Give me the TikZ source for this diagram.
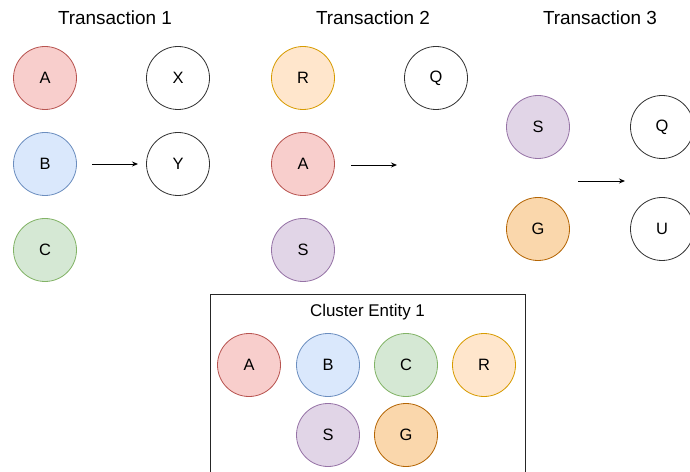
\documentclass[tikz,border=0pt]{standalone}
\usepackage{fontspec}
\setmainfont{Liberation Sans}
\usetikzlibrary{arrows.meta}
\definecolor{redF}{HTML}{F8CECC}\definecolor{redD}{HTML}{B85450}
\definecolor{bluF}{HTML}{DAE8FC}\definecolor{bluD}{HTML}{6C8EBF}
\definecolor{grnF}{HTML}{D5E8D4}\definecolor{grnD}{HTML}{82B366}
\definecolor{ylwF}{HTML}{FFE6CC}\definecolor{ylwD}{HTML}{D79B00}
\definecolor{prpF}{HTML}{E1D5E7}\definecolor{prpD}{HTML}{9673A6}
\definecolor{orgF}{HTML}{FAD7AC}\definecolor{orgD}{HTML}{B46504}
\tikzset{
  ent/.style={circle, minimum size=63bp, inner sep=0pt, draw, line width=0.8bp, font=\fontsize{16.5}{16.5}\selectfont},
  red/.style={ent, fill=redF, draw=redD},
  blu/.style={ent, fill=bluF, draw=bluD},
  grn/.style={ent, fill=grnF, draw=grnD},
  ylw/.style={ent, fill=ylwF, draw=ylwD},
  prp/.style={ent, fill=prpF, draw=prpD},
  org/.style={ent, fill=orgF, draw=orgD},
  plain/.style={ent, fill=white, draw=black!80},
  ttl/.style={font=\fontsize{19}{19}\selectfont},
  flow/.style={-{Stealth[length=6bp,width=5bp]}, line width=0.9bp}
}
\begin{document}
\begin{tikzpicture}[x=1bp, y=-1bp]
\useasboundingbox (0,0) rectangle (690,472);
% Transaction 1
\node[ttl] (t1) at (115,18) {Transaction 1};
\node[red] (a1) at (45,78) {A};
\node[blu] (b1) at (45,164) {B};
\node[grn] (c1) at (45,250) {C};
\node[plain] (x1) at (178,78) {X};
\node[plain] (y1) at (178,164) {Y};
\coordinate (p1s) at (92,164);
\coordinate (p1e) at (138,164);
\draw[flow] (p1s) -- (p1e);
% Transaction 2
\node[ttl] (t2) at (373,18) {Transaction 2};
\node[ylw] (r2) at (303,78) {R};
\node[red] (a2) at (303,164) {A};
\node[prp] (s2) at (303,250) {S};
\node[plain] (q2) at (436,78) {Q};
\coordinate (p2s) at (351,165);
\coordinate (p2e) at (397,165);
\draw[flow] (p2s) -- (p2e);
% Transaction 3
\node[ttl] (t3) at (600,18) {Transaction 3};
\node[prp] (s3) at (538,127) {S};
\node[org] (g3) at (538,229) {G};
\node[plain] (q3) at (662,127) {Q};
\node[plain] (u3) at (662,229) {U};
\coordinate (p3s) at (578,181);
\coordinate (p3e) at (625,181);
\draw[flow] (p3s) -- (p3e);
% Cluster entity
\draw[line width=0.8bp, draw=black!85] (210,480) -- (210,294.5) -- (525,294.5) -- (525,480);
\node[font=\fontsize{17}{17}\selectfont] (ct) at (367.5,312) {Cluster Entity 1};
\node[red] (ca) at (249,365) {A};
\node[blu] (cb) at (328,365) {B};
\node[grn] (cc) at (406,365) {C};
\node[ylw] (cr) at (484,365) {R};
\node[prp] (cs) at (328,435) {S};
\node[org] (cg) at (406,435) {G};
\end{tikzpicture}
\end{document}
